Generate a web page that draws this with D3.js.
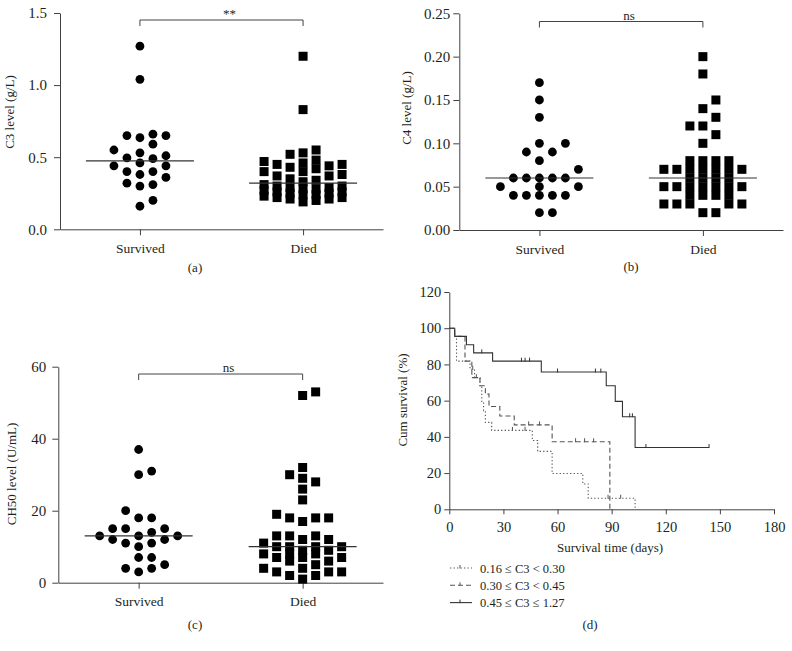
<!DOCTYPE html>
<html><head><meta charset="utf-8">
<script src="https://cdn.jsdelivr.net/npm/d3@7"></script>
<style>body{margin:0;background:#fff;}</style>
</head><body>
<script>
// ---------------- DATA ----------------
const categories = ["Survived", "Died"];
const c3Survived = [1.27,1.04,0.66,0.65,0.65,0.635,0.59,0.55,0.53,0.51,0.496,0.49,0.46,0.44,0.44,0.40,0.40,0.38,0.36,0.32,0.31,0.30,0.20,0.16];
const c3Died = [1.20,0.83,0.55,0.53,0.52,0.48,0.47,0.46,0.45,0.45,0.44,0.43,0.42,0.40,0.40,0.38,0.37,0.37,0.35,0.34,0.33,0.31,0.30,0.30,0.29,0.29,0.28,0.28,0.27,0.26,0.26,0.25,0.25,0.24,0.24,0.23,0.22,0.22,0.21,0.21,0.20,0.19];
const c4Survived = [0.17,0.15,0.13,0.10,0.10,0.09,0.09,0.08,0.07,0.06,0.06,0.06,0.06,0.06,0.05,0.05,0.05,0.04,0.04,0.04,0.04,0.04,0.02,0.02];
const c4Died = [0.20,0.18,0.15,0.14,0.13,0.12,0.12,0.11,0.10,0.08,0.08,0.08,0.08,0.07,0.07,0.07,0.07,0.07,0.07,0.07,0.06,0.06,0.06,0.06,0.05,0.05,0.05,0.05,0.05,0.05,0.05,0.04,0.04,0.04,0.04,0.03,0.03,0.03,0.03,0.03,0.02,0.02];
const ch50Survived = [37,31,30,20,18,18,15,15,15,14,13,13,13,12,12,11,11,10,7,7,5,4,4,3];
const ch50Died = [53,52,32,30,29,28,26,23,19,18,18,18,17,13,13,13,12,12,11,10,10,10,10,9,9,8,8,8,7,7,7,6,6,5,4,4,3,3,3,2,2,1];
const c3Ticks = [0, 0.5, 1.0, 1.5];
const c4Ticks = [0, 0.05, 0.10, 0.15, 0.20, 0.25];
const ch50Ticks = [0, 20, 40, 60];
const sigLabels = ["**", "ns", "ns"];
const panelLabels = ["(a)", "(b)", "(c)", "(d)"];
const yTitles = ["C3 level (g/L)", "C4 level (g/L)", "CH50 level (U/mL)", "Cum survival (%)"];
const survXTicks = [0, 30, 60, 90, 120, 150, 180];
const survYTicks = [0, 20, 40, 60, 80, 100, 120];
const survXTitle = "Survival time (days)";
const legendLabels = ["0.16 \u2264 C3 < 0.30", "0.30 \u2264 C3 < 0.45", "0.45 \u2264 C3 \u2264 1.27"];
// Kaplan-Meier steps [day, cumulative survival %]
const lowC3Steps = [[0,100],[3,95.5],[4,81.8],[11.5,77.3],[14,72.7],[17,68.2],[18,59.1],[19,54.5],[20,48],[23.5,43.6],[46,38],[49,32],[57,19.8],[74,14],[77,6.1],[103,0]];
const lowC3Censor = [13,35,42,88,95];
const midC3Steps = [[0,100],[3,95.5],[8.7,81.8],[12.5,72.7],[17,68.2],[20,63.6],[22,56.8],[28,51.5],[36,46.6],[57,37.3],[89,0]];
const midC3Censor = [15,44,50,70,75,80];
const highC3Steps = [[0,100],[3,95.5],[9.5,90.9],[13.5,86.4],[24,81.8],[51,75.8],[87,68.2],[92,59.6],[96,51.1],[103,34.1],[144,34.1]];
const highC3Censor = [18,40,42,44.5,60,81,84,100,101.5,109,144];

// ---------------- DRAW ----------------
const FONT = '"Liberation Serif","Times New Roman",serif';
const TXT = "#231f20", AX = "#404040";
const svg = d3.select("body").append("svg").attr("width", 792).attr("height", 651);

function styleAxis(g, fs) {
  g.attr("font-family", FONT);
  g.selectAll("path,line").attr("stroke", AX).attr("stroke-width", 1);
  g.selectAll("text").attr("font-family", FONT).attr("font-size", fs).attr("fill", TXT);
}
function addText(x, y, t, fs, anchor) {
  return svg.append("text").attr("x", x).attr("y", y).attr("text-anchor", anchor || "middle")
    .attr("font-family", FONT).attr("font-size", fs).attr("fill", TXT).text(t);
}
// greedy column swarm: prefer a clear column (hard gap) within +-3 slots, else accept a looser gap
function swarm(values, y, cx, step, hard, soft) {
  const pts = values.map(v => ({v, y: y(v)})).sort((a, b) => a.v - b.v);
  const near = [0,1,-1,2,-2,3,-3];
  const far = [4,-4,5,-5,6,-6,7,-7];
  const placed = [];
  const free = (k, yy, gap) => !placed.some(q => q.k === k && Math.abs(q.y - yy) < gap);
  for (const p of pts) {
    let k = near.find(c => free(c, p.y, hard));
    if (k === undefined) k = near.find(c => free(c, p.y, soft));
    if (k === undefined) k = far.find(c => free(c, p.y, soft));
    p.k = k === undefined ? 0 : k;
    p.x = cx + p.k * step;
    placed.push(p);
  }
  return placed;
}

function scatterPanel(o) {
  const y = d3.scaleLinear().domain([o.ticks[0], o.ticks[o.ticks.length - 1]]).range([o.yBottom, o.yTop]);
  const x = d3.scalePoint().domain(categories).range([o.xLeft, o.xRight]).padding(0.49);
  const ay = svg.append("g").attr("transform", `translate(${o.xLeft},0)`)
    .call(d3.axisLeft(y).tickValues(o.ticks).tickFormat(d3.format(o.fmt)).tickSize(6).tickSizeOuter(0).tickPadding(o.labPad));
  styleAxis(ay, 15);
  const ax = svg.append("g").attr("transform", `translate(0,${o.yBottom})`)
    .call(d3.axisBottom(x).tickSize(6).tickSizeOuter(0).tickPadding(8));
  styleAxis(ax, 13.5);
  svg.append("text").attr("transform", `translate(${o.titleX},${o.titleY}) rotate(-90)`)
    .attr("text-anchor", "middle").attr("font-family", FONT).attr("font-size", 13).attr("fill", TXT).text(o.title);

  [o.survived, o.died].forEach((vals, i) => {
    const cx = x(categories[i]);
    const pts = swarm(vals, y, cx, 13, 9, 5);
    const g = svg.append("g");
    if (i === 0) {
      g.selectAll("circle").data(pts).join("circle").attr("cx", d => d.x).attr("cy", d => d.y).attr("r", 4.4).attr("fill", "#000");
    } else {
      g.selectAll("rect").data(pts).join("rect").attr("x", d => d.x - 4.5).attr("y", d => d.y - 4.5).attr("width", 9).attr("height", 9).attr("fill", "#000");
    }
    const m = d3.median(vals);
    svg.append("line").attr("x1", cx - 54).attr("x2", cx + 54).attr("y1", y(m)).attr("y2", y(m))
      .attr("stroke", "#333").attr("stroke-width", 1.2);
  });
  const b1 = x(categories[0]), b2 = x(categories[1]);
  svg.append("path").attr("d", `M${b1},${o.bracketY + 6}V${o.bracketY}H${b2}V${o.bracketY + 6}`)
    .attr("fill", "none").attr("stroke", "#444").attr("stroke-width", 1);
  addText((b1 + b2) / 2 + 8, o.bracketY - 2, o.sig, 13);
  addText(o.labelX, o.labelY, o.label, 13);
}

scatterPanel({xLeft: 60, xRight: 383, yTop: 13, yBottom: 229.3, ticks: c3Ticks, fmt: ".1f", labPad: 7,
  survived: c3Survived, died: c3Died, title: yTitles[0], titleX: 14, titleY: 112,
  bracketY: 20, sig: sigLabels[0], label: panelLabels[0], labelX: 195, labelY: 272});
scatterPanel({xLeft: 459.3, xRight: 783, yTop: 13.3, yBottom: 230, ticks: c4Ticks, fmt: ".2f", labPad: 3,
  survived: c4Survived, died: c4Died, title: yTitles[1], titleX: 411, titleY: 108,
  bracketY: 21.5, sig: sigLabels[1], label: panelLabels[1], labelX: 631, labelY: 271});
scatterPanel({xLeft: 58.3, xRight: 383, yTop: 366.7, yBottom: 582.7, ticks: ch50Ticks, fmt: "d", labPad: 6,
  survived: ch50Survived, died: ch50Died, title: yTitles[2], titleX: 16, titleY: 474,
  bracketY: 374, sig: sigLabels[2], label: panelLabels[2], labelX: 195, labelY: 629});

// ---------------- Survival panel ----------------
const xs = d3.scaleLinear().domain([0, 180]).range([449.3, 774]);
const ys = d3.scaleLinear().domain([0, 120]).range([509.3, 292]);
const sx = svg.append("g").attr("transform", "translate(0,509.3)")
  .call(d3.axisBottom(xs).tickValues(survXTicks).tickSize(5).tickSizeOuter(0).tickPadding(7));
styleAxis(sx, 14.5);
const sy = svg.append("g").attr("transform", "translate(449.3,0)")
  .call(d3.axisLeft(ys).tickValues(survYTicks).tickSize(5).tickSizeOuter(0).tickPadding(3));
styleAxis(sy, 14.5);
addText(610, 552, survXTitle, 13);
svg.append("text").attr("transform", "translate(407,400) rotate(-90)").attr("text-anchor", "middle")
  .attr("font-family", FONT).attr("font-size", 13).attr("fill", TXT).text(yTitles[3]);

const series = [
  {steps: lowC3Steps, censor: lowC3Censor, dash: "1.3,2.2", color: "#555"},
  {steps: midC3Steps, censor: midC3Censor, dash: "5,3", color: "#555"},
  {steps: highC3Steps, censor: highC3Censor, dash: null, color: "#333"}
];
const line = d3.line().x(d => xs(d[0])).y(d => ys(d[1])).curve(d3.curveStepAfter);
function survAt(steps, t) { let s = steps[0][1]; for (const st of steps) if (st[0] <= t) s = st[1]; return s; }
series.forEach((s, i) => {
  svg.append("path").attr("d", line(s.steps)).attr("fill", "none").attr("stroke", s.color)
    .attr("stroke-width", 1.1).attr("stroke-dasharray", s.dash);
  svg.append("g").selectAll("line").data(s.censor).join("line")
    .attr("x1", d => xs(d)).attr("x2", d => xs(d))
    .attr("y1", d => ys(survAt(s.steps, d)) - 3.5).attr("y2", d => ys(survAt(s.steps, d)) + 0.5)
    .attr("stroke", s.color).attr("stroke-width", 1);
  const ly = 568 + i * 17.3;
  svg.append("line").attr("x1", 450).attr("x2", 472).attr("y1", ly).attr("y2", ly)
    .attr("stroke", s.color).attr("stroke-width", 1.1).attr("stroke-dasharray", s.dash);
  svg.append("line").attr("x1", 460).attr("x2", 460).attr("y1", ly - 3).attr("y2", ly + 0.5).attr("stroke", s.color);
  addText(480, ly + 4.5, legendLabels[i], 12.5, "start");
});
addText(590, 629, panelLabels[3], 13);
</script>
</body></html>
